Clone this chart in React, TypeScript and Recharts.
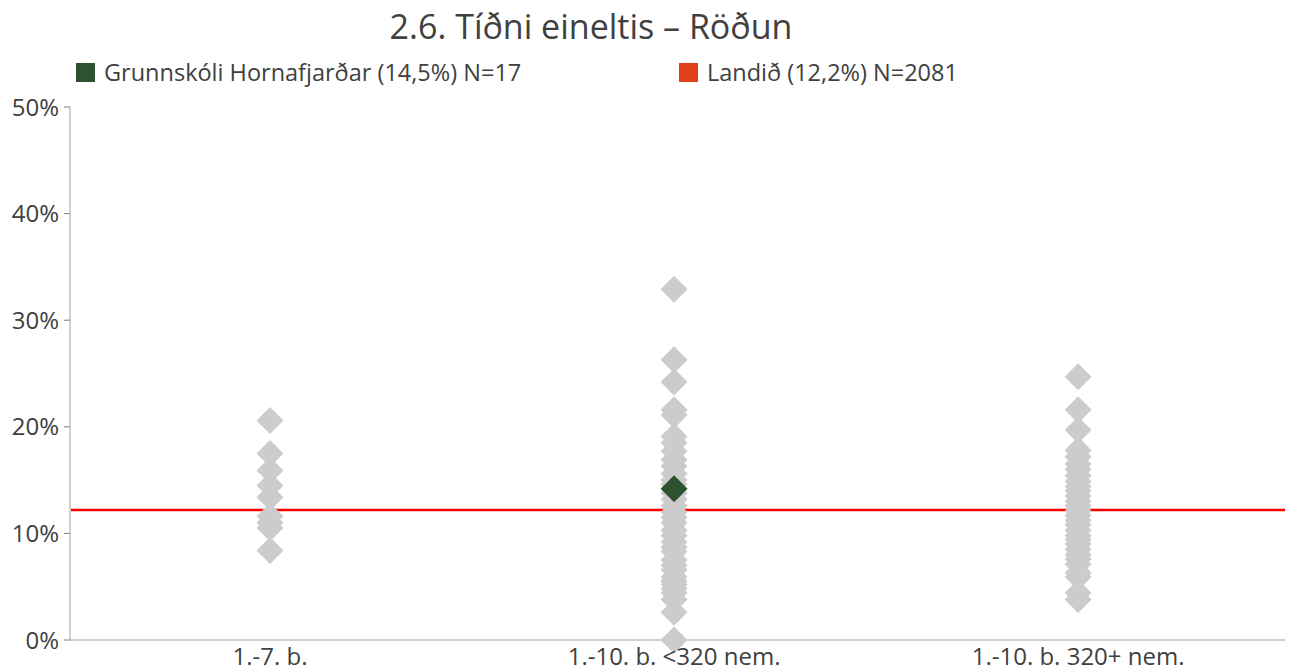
import React from "react";
import { ScatterChart, Scatter, XAxis, YAxis, ReferenceLine } from "recharts";

const categories = ["1.-7. b.", "1.-10. b. <320 nem.", "1.-10. b. 320+ nem."];

const group1 = [20.6, 17.5, 15.9, 14.5, 13.4, 11.6, 11.0, 10.5, 8.4];
const group2 = [
  32.9, 26.3, 24.2, 21.6, 21.1, 19.1, 18.5, 17.7, 16.9, 16.3, 15.6, 15.0, 14.6, 13.8, 13.2,
  12.6, 12.0, 11.5, 11.0, 10.3, 9.8, 9.2, 8.7, 8.3, 7.5, 7.0, 6.6, 5.9, 5.5, 5.2, 4.8, 4.4,
  3.8, 2.6, 0.0,
];
const group3 = [
  24.7, 21.6, 19.7, 17.8, 17.2, 16.5, 16.0, 15.4, 14.9, 14.4, 14.0, 13.5, 13.0, 12.6, 12.1,
  11.7, 11.2, 10.8, 10.3, 9.8, 9.4, 9.0, 8.5, 8.0, 7.6, 7.1, 6.3, 5.9, 4.4, 3.8,
];

const schoolCategory = 1;
const schoolValue = 14.2;
const nationalValue = 12.2;

const yTicks = [0, 10, 20, 30, 40, 50];

const title = "2.6. Tíðni eineltis – Röðun";
const schoolLabel = "Grunnskóli Hornafjarðar (14,5%) N=17";
const nationalLabel = "Landið (12,2%) N=2081";

const GRAY = "#cccccc";
const GREEN = "#2e5230";
const RED = "#ff0000";
const LEGEND_RED = "#e0401c";
const FONT = "'Open Sans', Lato, sans-serif";

const grayPoints = [group1, group2, group3].flatMap((vals, i) =>
  vals.map((v) => ({ x: i, y: v }))
);
const schoolPoints = [{ x: schoolCategory, y: schoolValue }];

const Diamond = (props: any) => {
  const { cx, cy, fill } = props;
  const r = 13.5;
  return (
    <polygon
      points={`${cx},${cy - r} ${cx + r},${cy} ${cx},${cy + r} ${cx - r},${cy}`}
      fill={fill}
    />
  );
};

export default function App() {
  return (
    <div style={{ position: "absolute", left: 0, top: 0, width: 1295, height: 671, background: "#fff", fontFamily: FONT, overflow: "hidden" }}>
      <div style={{ position: "absolute", left: 0, width: 1182, top: 4, lineHeight: "44px", textAlign: "center", fontSize: 34, color: "#404040", whiteSpace: "nowrap" }}>
        {title}
      </div>
      <div style={{ position: "absolute", left: 76, top: 57, height: 30, lineHeight: "30px", display: "flex", alignItems: "center", fontSize: 23.5, color: "#404040", whiteSpace: "nowrap" }}>
        <span style={{ display: "inline-block", width: 19, height: 19, background: GREEN, marginRight: 9 }} />
        {schoolLabel}
      </div>
      <div style={{ position: "absolute", left: 679, top: 57, height: 30, lineHeight: "30px", display: "flex", alignItems: "center", fontSize: 23.5, color: "#404040", whiteSpace: "nowrap" }}>
        <span style={{ display: "inline-block", width: 19, height: 19, background: LEGEND_RED, marginRight: 9 }} />
        {nationalLabel}
      </div>
      <ScatterChart width={1295} height={671} margin={{ top: 107, right: 10, bottom: 0, left: 0 }} style={{ position: "absolute", left: 0, top: 0 }}>
        <XAxis
          type="number"
          dataKey="x"
          domain={[-0.495, 2.512]}
          ticks={[0, 1, 2]}
          tickFormatter={(v: number) => categories[v]}
          height={31}
          tickLine={false}
          axisLine={{ stroke: "#d0d0d0", strokeWidth: 2 }}
          tick={{ fill: "#404040", fontSize: 24, fontFamily: FONT }}
          allowDataOverflow
          interval={0}
        />
        <YAxis
          type="number"
          dataKey="y"
          domain={[0, 50]}
          ticks={yTicks}
          tickFormatter={(v: number) => `${v}%`}
          width={70}
          tickSize={6}
          tickMargin={5}
          tickLine={{ stroke: "#808080" }}
          axisLine={{ stroke: "#d0d0d0", strokeWidth: 2 }}
          tick={{ fill: "#404040", fontSize: 24, fontFamily: FONT }}
          interval={0}
        />
        <ReferenceLine y={nationalValue} stroke={RED} strokeWidth={2.5} />
        <Scatter data={grayPoints} fill={GRAY} shape={Diamond} isAnimationActive={false} />
        <Scatter data={schoolPoints} fill={GREEN} shape={Diamond} isAnimationActive={false} />
      </ScatterChart>
    </div>
  );
}
